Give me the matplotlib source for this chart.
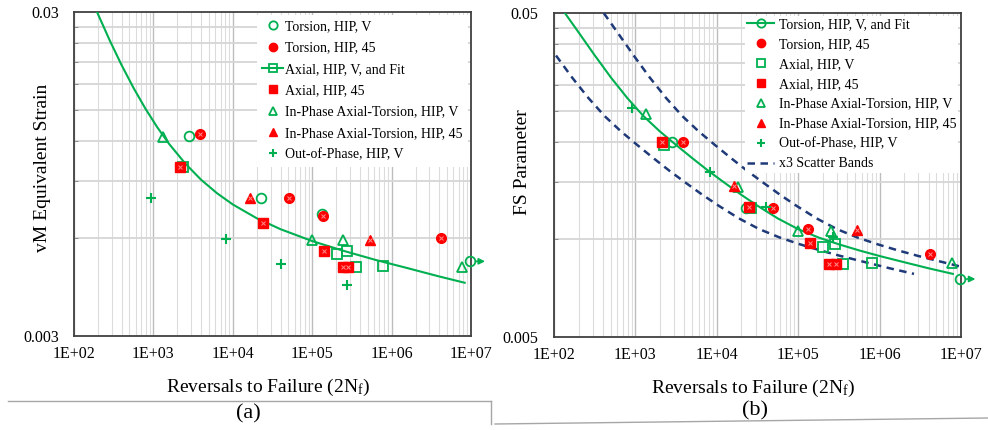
import numpy as np
import matplotlib.pyplot as plt
from matplotlib.lines import Line2D
from matplotlib.ticker import FixedLocator, LogLocator, NullFormatter

plt.rcParams['font.family'] = ['Liberation Serif', 'DejaVu Serif']
plt.rcParams['mathtext.fontset'] = 'custom'
plt.rcParams['mathtext.rm'] = 'Liberation Serif'
plt.rcParams['mathtext.it'] = 'Liberation Serif:italic'

GREEN = '#00b050'
RED = '#ff0000'
NAVY = '#1f3a78'

# Axis ticks
x_ticks = [1e2, 1e3, 1e4, 1e5, 1e6, 1e7]
x_labels = ['1E+02', '1E+03', '1E+04', '1E+05', '1E+06', '1E+07']
y_ticks_a = [0.003, 0.03]
y_labels_a = ['0.003', '0.03']
y_minor_a = [0.006, 0.009, 0.012, 0.015, 0.018, 0.021, 0.024, 0.027]
y_ticks_b = [0.005, 0.05]
y_labels_b = ['0.005', '0.05']
y_minor_b = [0.010, 0.015, 0.020, 0.025, 0.030, 0.035, 0.040, 0.045]

# (a) vM equivalent strain
tor_v_N_a = [2.8e3, 2.26e4, 1.33e5, 9.7e6]
tor_v_e_a = [0.0124, 0.0080, 0.00715, 0.0051]
tor_45_N_a = [3.87e3, 5.1e4, 1.35e5, 4.19e6]
tor_45_e_a = [0.0126, 0.0080, 0.00705, 0.0060]
ax_v_N_a = [2.36e3, 2.05e5, 2.74e5, 3.57e5, 7.8e5]
ax_v_e_a = [0.00997, 0.00537, 0.00548, 0.0049, 0.00493]
ax_45_N_a = [2.16e3, 2.4e4, 1.41e5, 2.44e5, 2.83e5]
ax_45_e_a = [0.0100, 0.0067, 0.00549, 0.0049, 0.0049]
ip_v_N_a = [1.32e3, 9.9e4, 2.44e5, 7.7e6]
ip_v_e_a = [0.0123, 0.00593, 0.00593, 0.0049]
ip_45_N_a = [1.65e4, 5.35e5]
ip_45_e_a = [0.0080, 0.00595]
op_v_N_a = [9.3e2, 8.2e3, 4.05e4, 2.74e5]
op_v_e_a = [0.0080, 0.00597, 0.0050, 0.00431]
fit_N_a = [195, 282, 398, 562, 794, 1122, 1585, 2512, 3981, 6310, 1e4,
           19953, 39811, 1e5, 251189, 630957, 1.585e6, 3.98e6, 8.32e6]
fit_e_a = [0.02999, 0.02451, 0.02056, 0.01749, 0.01509, 0.01321, 0.01173,
           0.01023, 0.00911, 0.00828, 0.00764, 0.00693, 0.00641, 0.00589,
           0.00549, 0.00515, 0.00486, 0.00458, 0.00438]

# (b) FS parameter
tor_v_N_b = [2.82e3, 2.29e4, 9.7e6]
tor_v_f_b = [0.0200, 0.0125, 0.00755]
tor_45_N_b = [3.85e3, 4.9e4, 1.32e5, 4.16e6]
tor_45_f_b = [0.0200, 0.0125, 0.01077, 0.00902]
ax_v_N_b = [2.24e3, 2.6e4, 2.02e5, 2.83e5, 3.55e5, 8.1e5]
ax_v_f_b = [0.0196, 0.0125, 0.00948, 0.00969, 0.0084, 0.00845]
ax_45_N_b = [2.12e3, 2.49e4, 1.4e5, 2.39e5, 2.91e5]
ax_45_f_b = [0.0200, 0.0126, 0.00975, 0.0084, 0.0084]
ip_v_N_b = [1.35e3, 1.82e4, 9.95e4, 2.53e5, 7.7e6]
ip_v_f_b = [0.0244, 0.01452, 0.01062, 0.01062, 0.00845]
ip_45_N_b = [1.63e4, 5.3e5]
ip_45_f_b = [0.01463, 0.0107]
op_v_N_b = [9.1e2, 8.25e3, 4.0e4, 2.7e5]
op_v_f_b = [0.0255, 0.01614, 0.0126, 0.0102]
fit_N_b = [136, 200, 316, 501, 794, 1259, 1995, 3162, 5012, 7943, 12589,
           19953, 31623, 56234, 1e5, 177828, 316228, 562341, 1e6, 1.995e6,
           3.98e6, 7.94e6]
fit_f_b = [0.0500, 0.04361, 0.03703, 0.03160, 0.02733, 0.02402, 0.02156,
           0.01957, 0.01781, 0.01626, 0.01493, 0.01374, 0.01271, 0.01161,
           0.01076, 0.01014, 0.00966, 0.00925, 0.00889, 0.00851, 0.00815,
           0.00783]
band_factor = 3


def green_pts(ax, N, v, marker, ms=7):
    ax.plot(N, v, ls='none', marker=marker, ms=ms, mfc='none', mec=GREEN,
            mew=1.3, zorder=4, clip_on=False)


def red_pts(ax, N, v, marker, ms=7):
    ax.plot(N, v, ls='none', marker=marker, ms=ms, mfc=RED, mec=RED,
            mew=1, zorder=4)
    ax.plot(N, v, ls='none', marker='x', ms=2.5, mec='#ff8c8c', mew=0.7,
            zorder=5)


def plus_pts(ax, N, v):
    ax.plot(N, v, ls='none', marker='+', ms=7, mec=GREEN, mew=1.5, zorder=4)


def runout(ax, N, v):
    ax.annotate('', xy=(N * 1.55, v), xytext=(N, v), annotation_clip=False,
                arrowprops=dict(arrowstyle='-|>', color=GREEN, lw=1.2,
                                mutation_scale=9, shrinkA=4, shrinkB=0))


def style_axes(ax, ylim, yt, yl, ymin, ypad):
    ax.set_xscale('log')
    ax.set_yscale('log')
    ax.set_xlim(1e2, 1e7)
    ax.set_ylim(*ylim)
    ax.xaxis.set_major_locator(FixedLocator(x_ticks))
    ax.set_xticklabels(x_labels)
    ax.xaxis.set_minor_locator(LogLocator(base=10, subs=np.arange(2, 10)))
    ax.xaxis.set_minor_formatter(NullFormatter())
    ax.yaxis.set_major_locator(FixedLocator(yt))
    ax.set_yticklabels(yl)
    ax.yaxis.set_minor_locator(FixedLocator(ymin))
    ax.yaxis.set_minor_formatter(NullFormatter())
    ax.grid(which='major', axis='x', color='#bdbdbd', lw=1)
    ax.grid(which='minor', axis='x', color='#dcdcdc', lw=0.8)
    ax.grid(which='minor', axis='y', color='#d6d6d6', lw=1.3)
    ax.set_axisbelow(True)
    ax.tick_params(axis='x', which='both', length=0, pad=7, labelsize=11.5)
    ax.tick_params(axis='y', which='major', length=0, pad=ypad, labelsize=11.5)
    ax.tick_params(axis='y', which='minor', direction='in', length=3,
                   color='#7f7f7f')
    for s in ax.spines.values():
        s.set_color('#404040')
        s.set_linewidth(1.3)


fig = plt.figure(figsize=(9.88, 4.30), dpi=100)
ax1 = fig.add_axes([74 / 988, 1 - 336 / 430, 397 / 988, 324 / 430])
ax2 = fig.add_axes([554 / 988, 1 - 337 / 430, 407 / 988, 324 / 430])

# ---- (a) ----
ax1.plot(fit_N_a, fit_e_a, color=GREEN, lw=1.5, zorder=3)
green_pts(ax1, tor_v_N_a, tor_v_e_a, 'o')
red_pts(ax1, tor_45_N_a, tor_45_e_a, 'o')
green_pts(ax1, ax_v_N_a, ax_v_e_a, 's', ms=6.5)
red_pts(ax1, ax_45_N_a, ax_45_e_a, 's', ms=6.5)
green_pts(ax1, ip_v_N_a, ip_v_e_a, '^')
red_pts(ax1, ip_45_N_a, ip_45_e_a, '^')
plus_pts(ax1, op_v_N_a, op_v_e_a)
runout(ax1, tor_v_N_a[-1], tor_v_e_a[-1])
style_axes(ax1, (0.003, 0.03), y_ticks_a, y_labels_a, y_minor_a, 10.5)
ax1.set_ylabel('vM Equivalent Strain', fontsize=14)
ax1.yaxis.set_label_coords(-0.058, 0.52)
ax1.set_xlabel('Reversals to Failure (2N$_\\mathrm{f}$)', fontsize=14)
ax1.xaxis.set_label_coords(0.49, -0.125)

h_a = [
    Line2D([], [], ls='none', marker='o', ms=6, mfc='none', mec=GREEN, mew=1.3),
    Line2D([], [], ls='none', marker='o', ms=6, mfc=RED, mec=RED),
    Line2D([], [], color=GREEN, lw=1.5, marker='s', ms=6, mfc='none', mec=GREEN, mew=1.3),
    Line2D([], [], ls='none', marker='s', ms=6, mfc=RED, mec=RED),
    Line2D([], [], ls='none', marker='^', ms=6, mfc='none', mec=GREEN, mew=1.3),
    Line2D([], [], ls='none', marker='^', ms=6, mfc=RED, mec=RED),
    Line2D([], [], ls='none', marker='+', ms=6, mec=GREEN, mew=1.5),
]
l_a = ['Torsion, HIP, V', 'Torsion, HIP, 45', 'Axial, HIP, V, and Fit',
       'Axial, HIP, 45', 'In-Phase Axial-Torsion, HIP, V',
       'In-Phase Axial-Torsion, HIP, 45', 'Out-of-Phase, HIP, V']
leg1 = ax1.legend(h_a, l_a, loc='upper right', bbox_to_anchor=(1, 1),
                  borderaxespad=0.2, fontsize=10, fancybox=False,
                  edgecolor='none', framealpha=1, handlelength=1.5,
                  handletextpad=0.15, labelspacing=0.6, borderpad=0.4)

# ---- (b) ----
N_b = np.array(fit_N_b)
ax2.plot(N_b * band_factor, fit_f_b, color=NAVY, lw=1.8, ls=(0, (3, 2.2)), zorder=3)
ax2.plot(N_b / band_factor, fit_f_b, color=NAVY, lw=1.8, ls=(0, (3, 2.2)), zorder=3)
ax2.plot(fit_N_b, fit_f_b, color=GREEN, lw=1.5, zorder=3)
green_pts(ax2, tor_v_N_b, tor_v_f_b, 'o')
red_pts(ax2, tor_45_N_b, tor_45_f_b, 'o')
green_pts(ax2, ax_v_N_b, ax_v_f_b, 's', ms=6.5)
red_pts(ax2, ax_45_N_b, ax_45_f_b, 's', ms=6.5)
green_pts(ax2, ip_v_N_b, ip_v_f_b, '^')
red_pts(ax2, ip_45_N_b, ip_45_f_b, '^')
plus_pts(ax2, op_v_N_b, op_v_f_b)
runout(ax2, tor_v_N_b[-1], tor_v_f_b[-1])
style_axes(ax2, (0.005, 0.05), y_ticks_b, y_labels_b, y_minor_b, 11.5)
ax2.set_ylabel('FS Parameter', fontsize=14)
ax2.yaxis.set_label_coords(-0.0565, 0.54)
ax2.set_xlabel('Reversals to Failure (2N$_\\mathrm{f}$)', fontsize=14)
ax2.xaxis.set_label_coords(0.49, -0.125)

h_b = [
    Line2D([], [], color=GREEN, lw=1.5, marker='o', ms=6, mfc='none', mec=GREEN, mew=1.3),
    Line2D([], [], ls='none', marker='o', ms=6, mfc=RED, mec=RED),
    Line2D([], [], ls='none', marker='s', ms=6, mfc='none', mec=GREEN, mew=1.3),
    Line2D([], [], ls='none', marker='s', ms=6, mfc=RED, mec=RED),
    Line2D([], [], ls='none', marker='^', ms=6, mfc='none', mec=GREEN, mew=1.3),
    Line2D([], [], ls='none', marker='^', ms=6, mfc=RED, mec=RED),
    Line2D([], [], ls='none', marker='+', ms=6, mec=GREEN, mew=1.5),
    Line2D([], [], color=NAVY, lw=1.8, ls=(0, (3, 2.2))),
]
l_b = ['Torsion, HIP, V, and Fit', 'Torsion, HIP, 45', 'Axial, HIP, V',
       'Axial, HIP, 45', 'In-Phase Axial-Torsion, HIP, V',
       'In-Phase Axial-Torsion, HIP, 45', 'Out-of-Phase, HIP, V',
       'x3 Scatter Bands']
leg2 = ax2.legend(h_b, l_b, loc='upper right', bbox_to_anchor=(1, 1),
                  borderaxespad=0.2, fontsize=10, fancybox=False,
                  edgecolor='none', framealpha=1, handlelength=1.95,
                  handletextpad=0.3, labelspacing=0.5, borderpad=0.15)

# document frame lines and captions
fig.add_artist(Line2D([8 / 988, 491 / 988], [1 - 401 / 430] * 2,
                      color='#a6a6a6', lw=1))
fig.add_artist(Line2D([491 / 988, 491 / 988], [1 - 401 / 430, 1 - 424 / 430],
                      color='#a6a6a6', lw=1))
fig.add_artist(Line2D([495 / 988, 988 / 988], [1 - 424 / 430, 1 - 418 / 430],
                      color='#a6a6a6', lw=1))
fig.text(248 / 988, 1 - 414 / 430, '(a)', fontsize=16, ha='center', va='center')
fig.text(755 / 988, 1 - 411 / 430, '(b)', fontsize=16, ha='center', va='center')

fig.savefig('out.png', dpi=100)
